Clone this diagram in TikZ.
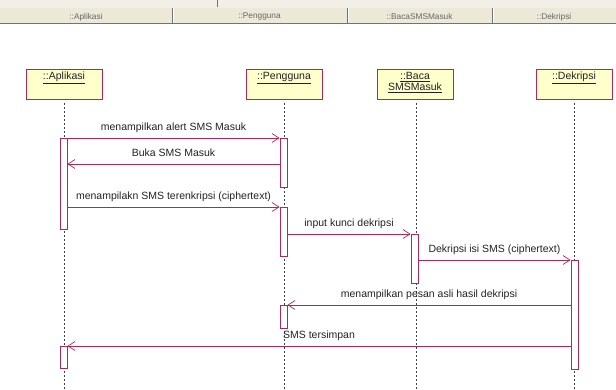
\documentclass[tikz,border=0pt]{standalone}
\usepackage{fontspec}
\setmainfont{Liberation Sans}
\usetikzlibrary{arrows.meta}
\definecolor{crim}{RGB}{176,40,90}
\definecolor{objfill}{RGB}{255,255,204}
\definecolor{hdr}{RGB}{236,233,216}
\definecolor{hdrtop}{RGB}{242,240,230}
\definecolor{txt}{RGB}{34,34,34}
\begin{document}
\begin{tikzpicture}[x=1pt,y=-1pt,
  objbox/.style={draw=crim,line width=0.8pt,fill=objfill,minimum width=76pt,minimum height=30pt,inner sep=0pt,anchor=north west},
  objlabel/.style={font=\fontsize{10.5}{12.5}\selectfont,text=txt,anchor=north,inner sep=0pt,align=center},
  lifeline/.style={draw=black!75,line width=0.6pt,dash pattern=on 2pt off 2pt},
  actbar/.style={draw=crim,line width=0.8pt,fill=white,minimum width=7pt,inner sep=0pt,anchor=north},
  msg/.style={draw=crim,line width=0.8pt,-{Straight Barb[length=7pt,width=9pt,line width=0.7pt]}},
  mlabel/.style={font=\fontsize{10.5}{12.5}\selectfont,text=txt,anchor=base,yshift=7.5pt,inner sep=0pt},
  hlabel/.style={font=\fontsize{8.3}{10}\selectfont,text=black!60,inner sep=0pt}
]
\useasboundingbox (0,0) rectangle (616,389);
% header
\fill[hdrtop] (0,0) rectangle (616,8);
\fill[hdr] (0,8) rectangle (616,23);
\draw[black!55,line width=1.6pt] (0,23.5) -- (616,23.5);
\draw[black!55,line width=0.6pt] (217,0) -- (217,7);
\foreach \xx in {172,347,492}{
  \draw[black!55,line width=0.8pt] (\xx,8) -- (\xx,23);
  \draw[white,line width=0.8pt] (\xx+1,8) -- (\xx+1,23);
}
\node[hlabel] (hA) at (86,17) {::Aplikasi};
\node[hlabel] (hP) at (259.5,17) {::Pengguna};
\node[hlabel] (hB) at (419.5,17) {::BacaSMSMasuk};
\node[hlabel] (hD) at (554,17) {::Dekripsi};

% objects
\node[objbox] (oA) at (26,69) {};
\node[objbox] (oP) at (246,69) {};
\node[objbox] (oB) at (377,69) {};
\node[objbox] (oD) at (536,69) {};
\node[objlabel] (lA) at (64,72) {\underline{::Aplikasi}};
\node[objlabel] (lP) at (284,72) {\underline{::Pengguna}};
\node[objlabel] (lB) at (415,72) {\underline{::Baca}\\[-1.5pt]\underline{SMSMasuk}};
\node[objlabel] (lD) at (574,72) {\underline{::Dekripsi}};

% lifelines
\coordinate (eA) at (64,389);
\coordinate (eP) at (284,389);
\coordinate (eB) at (416,389);
\coordinate (eD) at (574,389);
\coordinate (sA) at (64,103);
\coordinate (sP) at (284,103);
\coordinate (sB) at (416,103);
\coordinate (sD) at (574,103);
\draw[lifeline] (sA) -- (eA);
\draw[lifeline] (sP) -- (eP);
\draw[lifeline] (sB) -- (eB);
\draw[lifeline] (sD) -- (eD);

% activation bars
\node[actbar,minimum height=91pt] (a1) at (63.5,138) {};
\node[actbar,minimum height=49pt] (p1) at (283.5,138) {};
\node[actbar,minimum height=49pt] (p2) at (283.5,207) {};
\node[actbar,minimum height=49pt] (b1) at (414.5,234) {};
\node[actbar,minimum height=109pt] (d1) at (574.5,260) {};
\node[actbar,minimum height=23pt] (p3) at (283.5,305) {};
\node[actbar,minimum height=22pt] (a2) at (63.5,346) {};

% message end points
\coordinate (m2s) at (p1.west |- 0,164);
\coordinate (m2e) at (a1.east |- 0,164);
\coordinate (m3s) at (a1.east |- p2.north);
\coordinate (m4s) at (p2.east |- b1.north);
\coordinate (m5s) at (b1.east |- d1.north);
\coordinate (m6s) at (d1.west |- p3.north);
\coordinate (m7s) at (d1.west |- a2.north);

% messages
\draw[msg] (a1.north east) -- node[mlabel]{menampilkan alert SMS Masuk} (p1.north west);
\draw[msg] (m2s) -- node[mlabel]{Buka SMS Masuk} (m2e);
\draw[msg] (m3s) -- node[mlabel]{menampilakn SMS terenkripsi (ciphertext)} (p2.north west);
\draw[msg] (m4s) -- node[mlabel]{input kunci dekripsi} (b1.north west);
\draw[msg] (m5s) -- node[mlabel]{Dekripsi isi SMS (ciphertext)} (d1.north west);
\draw[msg] (m6s) -- node[mlabel]{menampilkan pesan asli hasil dekripsi} (p3.north east);
\draw[msg] (m7s) -- node[mlabel]{SMS tersimpan} (a2.north east);
\end{tikzpicture}
\end{document}
